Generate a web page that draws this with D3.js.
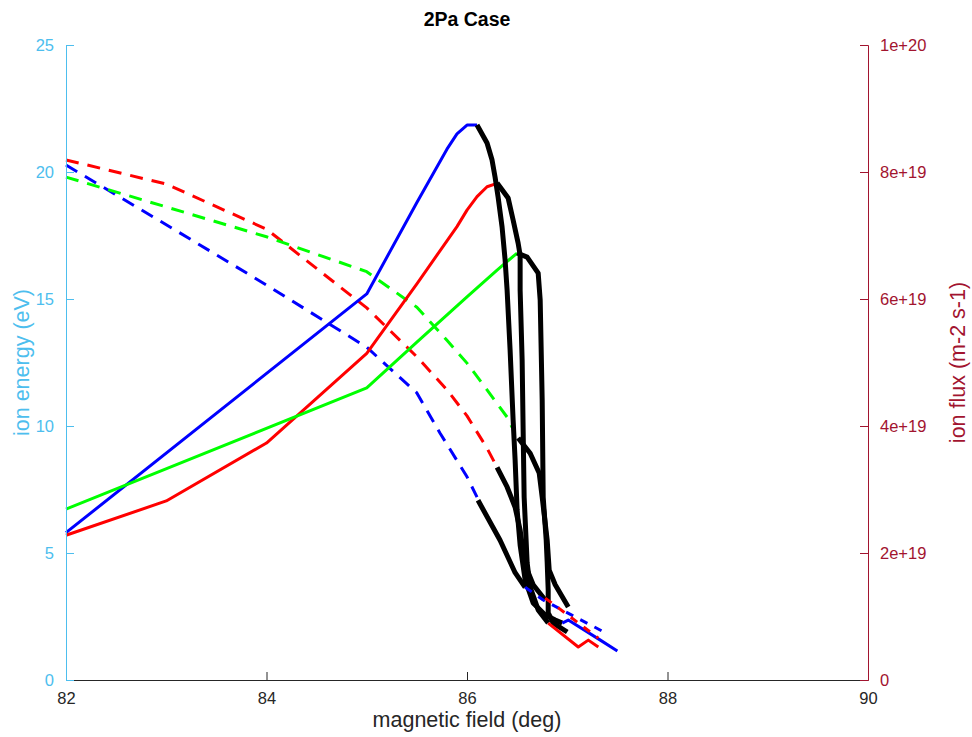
<!DOCTYPE html>
<html>
<head>
<meta charset="utf-8">
<script src="https://cdn.jsdelivr.net/npm/d3@7"></script>
<style>
  body { margin: 0; background: #fff; }
  svg { font-family: "Liberation Sans", Arial, sans-serif; }
</style>
</head>
<body>
<svg id="chart" width="972" height="737"></svg>
<script>
// x ticks / y ticks
var xTicks = [82, 84, 86, 88, 90];
var energyTicks = [0, 5, 10, 15, 20, 25];
var fluxTicks = [0, 2e19, 4e19, 6e19, 8e19, 1e20];

// ion energy (eV), solid lines  [deg, eV]
var energyBlue = [[82, 5.8], [85, 15.2], [85.5, 18.8], [85.6, 19.5], [85.7, 20.2], [85.8, 20.9], [85.9, 21.5], [86.0, 21.85], [86.1, 21.85]];
var energyRed = [[82, 5.7], [83, 7.05], [84, 9.33], [85, 12.86], [85.5, 15.6], [85.9, 17.85], [86.0, 18.5], [86.1, 19.03], [86.2, 19.42], [86.3, 19.55]];
var energyGreen = [[82, 6.73], [85, 11.5], [85.5, 13.3], [86.0, 15.08], [86.3, 16.14], [86.5, 16.81]];

// black (transition) part of each energy curve
var energyBlueBlack = [[86.10, 21.85], [86.20, 21.14], [86.25, 20.47], [86.28, 19.8], [86.31, 19.02], [86.35, 17.83], [86.38, 16.54], [86.40, 15.35], [86.43, 12.99], [86.46, 10.24], [86.48, 8.66], [86.50, 6.69], [86.53, 5.31], [86.58, 3.94], [86.66, 3.03], [86.78, 2.56], [86.88, 2.36], [86.95, 2.24]];
var energyRedBlack = [[86.30, 19.57], [86.41, 18.98], [86.46, 18.11], [86.51, 17.2], [86.53, 16.73], [86.53, 15.35], [86.55, 12.6], [86.56, 9.84], [86.57, 7.2], [86.60, 4.61], [86.63, 3.66], [86.71, 2.76], [86.81, 2.24]];
var energyGreenBlack = [[86.50, 16.81], [86.60, 16.65], [86.71, 16.02], [86.73, 14.96], [86.75, 11.02], [86.76, 7.2], [86.79, 5.51], [86.80, 4.61], [86.81, 3.54], [86.81, 2.64], [86.86, 2.24], [87.00, 1.89]];

// energy after the black part
var energyBlueTail = [[86.95, 2.24], [87.01, 2.36], [87.33, 1.57], [87.50, 1.14]];
var energyRedTail = [[86.81, 2.24], [87.11, 1.3], [87.21, 1.57], [87.31, 1.3]];

// ion flux (1e19 m-2 s-1), dashed lines
var fluxBlue = [[82, 8.11], [83, 7.17], [84, 6.22], [85, 5.24], [85.5, 4.52], [85.73, 3.89], [86.0, 3.2], [86.1, 2.88]];
var fluxRed = [[82, 8.19], [83, 7.81], [84, 7.1], [85, 5.86], [85.5, 5.09], [85.8, 4.57], [86.0, 4.16], [86.2, 3.65], [86.3, 3.35]];
var fluxGreen = [[82, 7.92], [83, 7.45], [84, 6.98], [85, 6.43], [85.5, 5.87], [85.8, 5.35], [86.0, 4.99], [86.2, 4.57], [86.4, 4.14], [86.45, 3.98]];

var fluxBlueBlack = [[86.11, 2.83], [86.33, 2.2], [86.48, 1.69], [86.58, 1.46]];
var fluxRedBlack = [[86.30, 3.35], [86.40, 3.04], [86.48, 2.72], [86.53, 2.36], [86.58, 1.81], [86.66, 1.5], [86.78, 1.26]];
var fluxGreenBlack = [[86.51, 3.81], [86.63, 3.57], [86.72, 3.26], [86.75, 2.88], [86.80, 2.2], [86.82, 1.73], [86.88, 1.5], [87.01, 1.15]];

var fluxBlueTail = [[86.58, 1.46], [86.76, 1.26], [87.36, 0.76]];
var fluxRedTail = [[86.78, 1.29], [86.90, 1.15], [87.10, 0.91], [87.31, 0.66]];

var svg = d3.select("#chart"),
	margin = {left: 66, right: 104, top: 45, bottom: 57},
	width = +svg.attr("width"),
	height = +svg.attr("height");

var x = d3.scaleLinear().domain([82, 90]).range([margin.left, width - margin.right]);
var yE = d3.scaleLinear().domain([0, 25]).range([height - margin.bottom, margin.top]);
var yF = d3.scaleLinear().domain([0, 1e20]).range([height - margin.bottom, margin.top]);

var leftColor = "#4DBEEE", rightColor = "#A2142F", axisColor = "#262626";

var lineE = d3.line().x(function(d) { return x(d[0]); }).y(function(d) { return yE(d[1]); });
var lineF = d3.line().x(function(d) { return x(d[0]); }).y(function(d) { return yF(d[1] * 1e19); });

var g = svg.append("g").attr("id", "lines");

function draw(data, gen, color, w, dash) {
	g.append("path")
		.attr("d", gen(data))
		.attr("fill", "none")
		.attr("stroke", color)
		.attr("stroke-width", w)
		.attr("stroke-linejoin", "round")
		.attr("stroke-dasharray", dash || null);
}

var dashed = "13,9";
draw(fluxBlue, lineF, "#0000ff", 3, dashed);
draw(fluxRed, lineF, "#ff0000", 3, dashed);
draw(fluxGreen, lineF, "#00ff00", 3, dashed);
draw(energyBlue, lineE, "#0000ff", 3);
draw(energyRed, lineE, "#ff0000", 3);
draw(energyGreen, lineE, "#00ff00", 3);

draw(energyBlueBlack, lineE, "#000", 5);
draw(energyRedBlack, lineE, "#000", 5);
draw(energyGreenBlack, lineE, "#000", 5);
draw(fluxBlueBlack, lineF, "#000", 5);
draw(fluxRedBlack, lineF, "#000", 5);
draw(fluxGreenBlack, lineF, "#000", 5);

draw(energyBlueTail, lineE, "#0000ff", 3);
draw(energyRedTail, lineE, "#ff0000", 3);
draw(fluxBlueTail, lineF, "#0000ff", 3, "8,8");
draw(fluxRedTail, lineF, "#ff0000", 3, "8,8");

// axes, ticks pointing inward like matlab
var xAxis = svg.append("g")
	.attr("transform", "translate(0," + (height - margin.bottom) + ")")
	.call(d3.axisBottom(x).tickValues(xTicks).tickSizeInner(-8).tickSizeOuter(0).tickPadding(12));
xAxis.select(".domain").attr("stroke", axisColor).attr("stroke-width", 1.2);
xAxis.selectAll(".tick line").attr("stroke", axisColor);
xAxis.selectAll("text").attr("fill", axisColor).style("font-size", "16.5px");

var leftAxis = svg.append("g")
	.attr("transform", "translate(" + margin.left + ",0)")
	.call(d3.axisLeft(yE).tickValues(energyTicks).tickSizeInner(-8).tickSizeOuter(-8).tickPadding(12));
leftAxis.select(".domain").attr("stroke", leftColor);
leftAxis.selectAll(".tick line").attr("stroke", leftColor);
leftAxis.selectAll("text").attr("fill", leftColor).style("font-size", "16.5px");

var rightAxis = svg.append("g")
	.attr("transform", "translate(" + (width - margin.right) + ",0)")
	.call(d3.axisRight(yF).tickValues(fluxTicks).tickSizeInner(-8).tickSizeOuter(-8).tickPadding(12)
		.tickFormat(function(d) { return d === 0 ? "0" : d3.format(".0e")(d); }));
rightAxis.select(".domain").attr("stroke", rightColor);
rightAxis.selectAll(".tick line").attr("stroke", rightColor);
rightAxis.selectAll("text").attr("fill", rightColor).style("font-size", "16.5px");

// labels
svg.append("text")
	.attr("x", (margin.left + width - margin.right) / 2).attr("y", 26)
	.attr("text-anchor", "middle").attr("font-weight", "bold").attr("font-size", 19.5)
	.attr("fill", "#000").text("2Pa Case");

svg.append("text")
	.attr("x", (margin.left + width - margin.right) / 2).attr("y", 727)
	.attr("text-anchor", "middle").attr("font-size", 21.5)
	.attr("fill", axisColor).text("magnetic field (deg)");

svg.append("text")
	.attr("transform", "translate(29," + (margin.top + height - margin.bottom) / 2 + ") rotate(-90)")
	.attr("text-anchor", "middle").attr("font-size", 21.5)
	.attr("fill", leftColor).text("ion energy (eV)");

svg.append("text")
	.attr("transform", "translate(965," + (margin.top + height - margin.bottom) / 2 + ") rotate(-90)")
	.attr("text-anchor", "middle").attr("font-size", 21.5)
	.attr("fill", rightColor).text("ion flux (m-2 s-1)");
</script>
</body>
</html>
